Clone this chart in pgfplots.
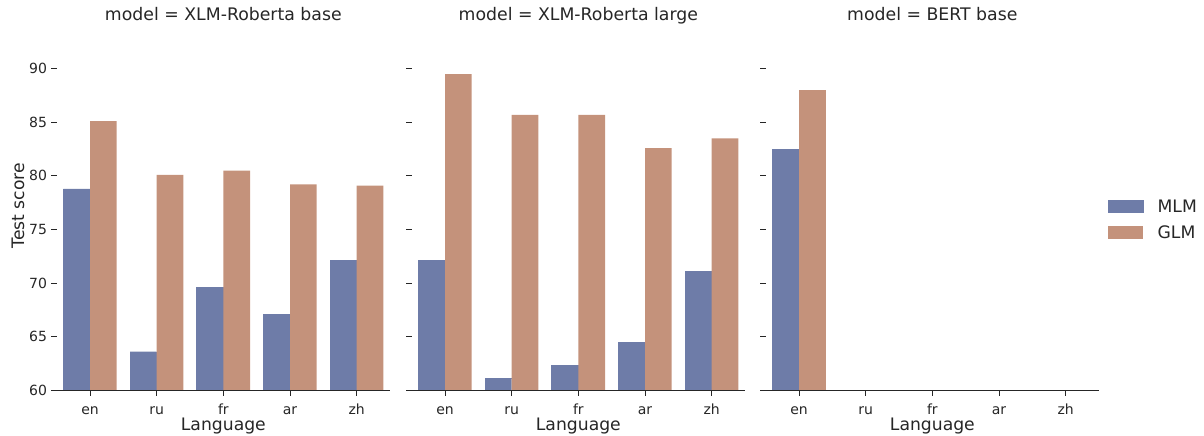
\documentclass[border=0pt]{standalone}
\usepackage{fontspec}
\setmainfont{DejaVu Sans}
\usepackage{pgfplots}
\pgfplotsset{compat=1.18}
\definecolor{mlm}{RGB}{110,124,168}
\definecolor{glm}{RGB}{196,146,123}
\definecolor{ink}{RGB}{38,38,38}
\pgfplotsset{
  facet/.style={
    scale only axis, width=333.3pt, height=361.26pt,
    xmin=-0.5, xmax=4.5, ymin=60, ymax=93.7,
    axis x line*=bottom, axis y line*=left,
    y axis line style={draw=none},
    x axis line style={ink, line width=1pt},
    xtick={0,1,2,3,4}, xticklabels={en,ru,fr,ar,zh},
    ytick={60,65,70,75,80,85,90},
    tick align=outside, major tick length=5.5pt,
    tick style={ink, line width=1pt},
    /pgf/number format/assume math mode=true,
    xticklabel style={font=\fontsize{14}{16}\selectfont, text=ink, anchor=base, yshift=-18.7pt},
    yticklabel style={font=\fontsize{14}{16}\selectfont, text=ink, anchor=east, inner sep=0pt, xshift=-4pt},
    every axis x label/.style={at={(axis description cs:0.5,0)}, anchor=base, yshift=-40.2pt, font=\fontsize{17.2}{20}\selectfont, text=ink},
    every axis title/.style={at={(axis description cs:0.5,1)}, anchor=base, yshift=8.3pt, font=\fontsize{17.3}{20}\selectfont, text=ink},
    xlabel={Language},
    ybar, bar width=26.67pt,
    axis on top,
  }
}
\begin{document}
\begin{tikzpicture}
\useasboundingbox (0,0) rectangle (1204pt,436pt);
\begin{axis}[facet, at={(56.7pt,45.7pt)}, anchor=south west,
  title={model = XLM-Roberta base},
  ylabel={Test score},
  every axis y label/.style={at={(axis description cs:-0.0981,0.511)}, rotate=90, anchor=base, font=\fontsize{17.2}{20}\selectfont, text=ink}]
\addplot[fill=mlm, draw=mlm, line width=0.4pt, bar shift=-13.33pt] coordinates {(0,78.8) (1,63.6) (2,69.6) (3,67.1) (4,72.1)};
\addplot[fill=glm, draw=none, bar shift=13.33pt] coordinates {(0,85.1) (1,80.1) (2,80.5) (3,79.2) (4,79.1)};
\end{axis}
\begin{axis}[facet, at={(411.7pt,45.7pt)}, anchor=south west,
  title={model = XLM-Roberta large}, yticklabels={}]
\addplot[fill=mlm, draw=mlm, line width=0.4pt, bar shift=-13.33pt] coordinates {(0,72.1) (1,61.1) (2,62.3) (3,64.5) (4,71.1)};
\addplot[fill=glm, draw=none, bar shift=13.33pt] coordinates {(0,89.5) (1,85.7) (2,85.7) (3,82.6) (4,83.5)};
\end{axis}
\begin{axis}[facet, at={(765.7pt,45.7pt)}, anchor=south west,
  title={model = BERT base}, yticklabels={},
  legend style={at={(1.027,0.472)}, anchor=west, draw=none, fill=none,
    font=\fontsize{17.2}{20}\selectfont, text=ink, inner sep=0pt,
    nodes={inner sep=0pt, anchor=base west}, row sep=12.3pt,
    /tikz/every odd column/.append style={column sep=14pt}}]
\addplot[fill=mlm, draw=mlm, line width=0.4pt, bar shift=-13.33pt,
  legend image code/.code={\fill[mlm] (0pt,-0.5pt) rectangle (35pt,12.2pt);}] coordinates {(0,82.5)};
\addplot[fill=glm, draw=none, bar shift=13.33pt,
  legend image code/.code={\fill[glm] (0pt,-0.5pt) rectangle (35pt,12.2pt);}] coordinates {(0,88.0)};
\legend{MLM, GLM}
\end{axis}
\end{tikzpicture}
\end{document}
